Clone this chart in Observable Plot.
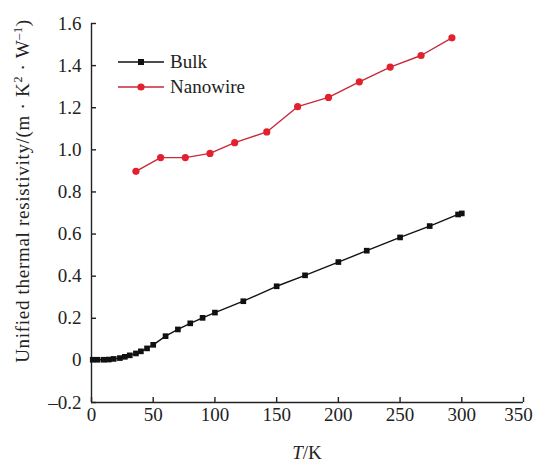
<!DOCTYPE html>
<html><head><meta charset="utf-8">
<script src="https://cdn.jsdelivr.net/npm/d3@7"></script>
<script src="https://cdn.jsdelivr.net/npm/@observablehq/plot@0.6"></script>
<style>body{margin:0;background:#fff} #chart svg{display:block}</style>
</head><body><div id="chart"></div>
<script>
// Data
const seriesNames = ["Bulk", "Nanowire"];
const tBulk = [1, 5, 10, 14, 18, 23, 27, 31, 36, 40, 45, 50, 60, 70, 80, 90, 100, 123, 150, 173, 200, 223, 250, 274, 297, 300];
const rBulk = [0.003, 0.003, 0.003, 0.004, 0.007, 0.011, 0.017, 0.024, 0.033, 0.043, 0.057, 0.074, 0.115, 0.147, 0.176, 0.202, 0.227, 0.281, 0.352, 0.404, 0.467, 0.521, 0.584, 0.638, 0.693, 0.698];
const tNano = [36, 56, 76, 96, 116, 142, 167, 192, 217, 242, 267, 292];
const rNano = [0.898, 0.963, 0.963, 0.983, 1.034, 1.085, 1.205, 1.249, 1.323, 1.393, 1.448, 1.532];
const xTicks = [0, 50, 100, 150, 200, 250, 300, 350];
const yTicks = [-0.2, 0, 0.2, 0.4, 0.6, 0.8, 1.0, 1.2, 1.4, 1.6];

const W = 536, H = 463, mL = 91, mR = 13, mT = 23, mB = 61;
const font = "'Liberation Serif', 'Times New Roman', serif";
const fs = 19;
const axisColor = "#222";
const bulkColor = "#111";
const nanoLine = "#c62a3a";
const nanoDot = "#e3202d";

const bulk = tBulk.map((t, i) => ({T: t, R: rBulk[i]}));
const nano = tNano.map((t, i) => ({T: t, R: rNano[i]}));

const fmt = d => d === 0 ? "0" : d < 0 ? "\u2013" + Math.abs(d).toFixed(1) : d.toFixed(1);
const xMain = xTicks.slice(0, -1);
const xLast = xTicks.slice(-1);

const plot = Plot.plot({
  width: W, height: H,
  marginLeft: mL, marginRight: mR, marginTop: mT, marginBottom: mB,
  style: {fontFamily: font, fontSize: fs + "px", background: "#fff", color: axisColor},
  x: {domain: [0, 350]},
  y: {domain: [-0.2, 1.6]},
  marks: [
    Plot.axisX(xMain, {tickSize: 0, tickPadding: 5, label: null, fontSize: fs}),
    Plot.axisX(xLast, {tickSize: 0, tickPadding: 5, label: null, fontSize: fs, dx: -5}),
    Plot.axisY(yTicks, {tickSize: 0, tickPadding: 10, label: null, fontSize: fs, tickFormat: fmt}),
    Plot.tickX(xTicks, {x: d => d, insetTop: (H - mT - mB) - 5, stroke: axisColor, strokeWidth: 1.4}),
    Plot.tickY(yTicks, {y: d => d, insetRight: (W - mL - mR) - 5, stroke: axisColor, strokeWidth: 1.4}),
    Plot.ruleX([0], {stroke: axisColor, strokeWidth: 1.4}),
    Plot.ruleY([-0.2], {stroke: axisColor, strokeWidth: 1.4}),
    Plot.line(bulk, {x: "T", y: "R", stroke: bulkColor, strokeWidth: 1.4}),
    Plot.dot(bulk, {x: "T", y: "R", symbol: "square", fill: bulkColor, r: 3.2}),
    Plot.line(nano, {x: "T", y: "R", stroke: nanoLine, strokeWidth: 1.4}),
    Plot.dot(nano, {x: "T", y: "R", fill: nanoDot, r: 3.6})
  ]
});
document.getElementById("chart").appendChild(plot);

const svg = d3.select(plot);
// Y title
const yt = svg.append("text")
  .attr("transform", "translate(29,191) rotate(-90)")
  .attr("text-anchor", "middle")
  .attr("letter-spacing", "0.7px")
  .attr("font-family", font).attr("font-size", fs).attr("fill", axisColor);
yt.append("tspan").text("Unified thermal resistivity/(m \u00B7 K");
yt.append("tspan").attr("dy", -7).attr("font-size", 12).text("2");
yt.append("tspan").attr("dy", 7).text(" \u00B7 W");
yt.append("tspan").attr("dy", -7).attr("font-size", 12).text("\u20131");
yt.append("tspan").attr("dy", 7).text(")");
// X title
const xt = svg.append("text")
  .attr("x", 307).attr("y", 459)
  .attr("text-anchor", "middle")
  .attr("font-family", font).attr("font-size", fs).attr("fill", axisColor);
xt.append("tspan").attr("font-style", "italic").text("T");
xt.append("tspan").text("/K");

// Legend
const leg = [
  {name: seriesNames[0], line: bulkColor, fill: bulkColor, sym: "square", y: 62},
  {name: seriesNames[1], line: nanoLine, fill: nanoDot, sym: "circle", y: 87}
];
leg.forEach(l => {
  svg.append("line").attr("x1", 118).attr("x2", 164).attr("y1", l.y).attr("y2", l.y)
    .attr("stroke", l.line).attr("stroke-width", 1.4);
  if (l.sym === "square") {
    svg.append("rect").attr("x", 141 - 3).attr("y", l.y - 3).attr("width", 6).attr("height", 6).attr("fill", l.fill);
  } else {
    svg.append("circle").attr("cx", 141).attr("cy", l.y).attr("r", 3.6).attr("fill", l.fill);
  }
  svg.append("text").attr("x", 170).attr("y", l.y).attr("dy", "0.32em")
    .attr("text-anchor", "start")
    .attr("font-family", font).attr("font-size", fs).attr("fill", axisColor).text(l.name);
});
</script>
</body></html>
